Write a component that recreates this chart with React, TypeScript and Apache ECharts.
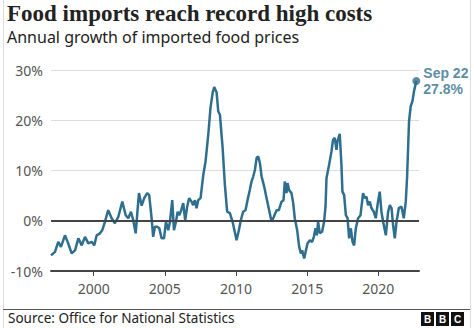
import React, { useEffect, useRef } from "react";
import * as echarts from "echarts";

const titleText = "Food imports reach record high costs";
const subtitleText = "Annual growth of imported food prices";
const sourceText = "Source: Office for National Statistics";
const xTicks = [2000, 2005, 2010, 2015, 2020];
const yTicks = [-10, 0, 10, 20, 30];
const lastLabel = "Sep 22";

const years = [
  1997.0, 1997.28, 1997.51, 1997.7, 1997.98, 1998.21, 1998.45, 1998.69, 1998.92, 1999.16,
  1999.39, 1999.62, 1999.86, 2000.04, 2000.21, 2000.44, 2000.6, 2000.79, 2001.02, 2001.26,
  2001.49, 2001.73, 2002.01, 2002.25, 2002.43, 2002.62, 2002.78, 2002.95, 2003.18, 2003.37,
  2003.55, 2003.76, 2003.9, 2004.07, 2004.18, 2004.3, 2004.46, 2004.61, 2004.77, 2004.94,
  2005.08, 2005.24, 2005.36, 2005.52, 2005.64, 2005.78, 2005.9, 2006.01, 2006.15, 2006.29,
  2006.43, 2006.57, 2006.71, 2006.88, 2006.99, 2007.11, 2007.23, 2007.34, 2007.51, 2007.7,
  2007.86, 2008.05, 2008.21, 2008.36, 2008.47, 2008.64, 2008.75, 2008.87, 2009.06, 2009.22,
  2009.38, 2009.57, 2009.76, 2010.04, 2010.2, 2010.34, 2010.5, 2010.67, 2010.81, 2010.97,
  2011.09, 2011.21, 2011.33, 2011.45, 2011.56, 2011.68, 2011.8, 2011.98, 2012.15, 2012.33,
  2012.5, 2012.66, 2012.85, 2013.01, 2013.2, 2013.34, 2013.43, 2013.55, 2013.62, 2013.73,
  2013.9, 2014.02, 2014.13, 2014.3, 2014.44, 2014.56, 2014.65, 2014.79, 2014.89, 2015.03,
  2015.19, 2015.35, 2015.47, 2015.59, 2015.68, 2015.77, 2015.89, 2016.05, 2016.19, 2016.29,
  2016.36, 2016.54, 2016.71, 2016.82, 2016.94, 2017.06, 2017.13, 2017.29, 2017.41, 2017.48,
  2017.6, 2017.72, 2017.84, 2017.95, 2018.07, 2018.19, 2018.3, 2018.42, 2018.58, 2018.75,
  2018.93, 2019.05, 2019.17, 2019.28, 2019.4, 2019.52, 2019.68, 2019.82, 2019.98, 2020.1,
  2020.22, 2020.34, 2020.53, 2020.69, 2020.81, 2020.93, 2021.04, 2021.16, 2021.28, 2021.44,
  2021.63, 2021.79, 2021.93, 2022.02, 2022.16, 2022.28, 2022.4, 2022.51, 2022.67,
];

const growth = [
  -6.9, -6.2, -4.2, -5.2, -2.9, -4.5, -6.5, -5.9, -3.5, -4.9,
  -3.2, -4.5, -4.2, -4.9, -2.9, -2.5, -1.9, -0.2, 2.1, 0.5,
  -0.5, 0.8, 3.8, 1.1, 0.5, 1.8, 0.1, -2.5, 5.5, 3.0,
  4.5, 5.5, 5.1, 0.5, -3.2, -1.2, -1.2, -1.5, -3.5, -3.5,
  -0.2, -1.9, -0.2, 4.1, -1.9, -0.2, 1.8, 1.1, 2.1, 3.5,
  0.1, 2.8, 4.5, 3.8, 3.1, 4.1, 2.5, 4.1, 4.5, 9.1,
  11.8, 17.1, 22.5, 25.5, 26.6, 25.5, 21.8, 21.1, 14.5, 7.1,
  1.8, 1.5, -0.2, -3.9, -1.9, 0.1, 1.8, 2.1, 4.1, 6.1,
  7.8, 8.8, 10.1, 12.5, 12.8, 11.5, 8.8, 6.8, 4.5, 2.1,
  -0.2, 0.8, 2.1, 2.1, 3.8, 4.1, 7.8, 5.5, 7.5, 6.1,
  5.5, 3.5, 0.5, -1.9, -5.2, -6.5, -5.9, -7.5, -6.2, -4.5,
  -3.9, -4.2, -3.2, -1.5, -2.9, -0.2, -2.5, -2.2, -0.2, 2.8,
  8.5, 11.1, 13.8, 16.1, 16.5, 14.1, 15.8, 17.3, 11.1, 5.8,
  5.1, 1.1, 0.5, -3.5, -1.5, -4.2, -4.9, -1.5, 0.5, 1.1,
  5.5, 4.5, 4.8, 3.1, 3.8, 2.5, 1.8, 0.5, 3.8, 5.8,
  1.8, -0.2, -2.9, 1.8, 3.1, 2.5, -0.9, -3.5, -0.2, 2.5,
  2.8, 0.5, 3.8, 8.5, 19.8, 22.8, 23.8, 25.8, 27.8,
];

const LINE = "#2e6e8e";
const SANS = "'Noto Sans', 'Open Sans', sans-serif";

export default function App() {
  const ref = useRef<HTMLDivElement>(null);
  useEffect(() => {
    if (!ref.current) return;
    const chart = echarts.init(ref.current, undefined, { renderer: "svg" });
    const data = years.map((y, i) => [y, growth[i]]);
    const last = data[data.length - 1];
    const bbc = ["B", "B", "C"];
    const option: any = {
      animation: false,
      backgroundColor: "#ffffff",
      grid: { left: 51, right: 55, top: 70, bottom: 57, containLabel: false },
      xAxis: {
        type: "value",
        min: 1997,
        max: 2022.86,
        splitLine: { show: false },
        axisLine: { show: true, onZero: false, lineStyle: { color: "#444", width: 2 } },
        axisTick: {
          show: true,
          customValues: xTicks,
          length: 5,
          lineStyle: { color: "#444", width: 1 },
        },
        axisLabel: {
          customValues: xTicks,
          formatter: (v: number) => String(v),
          color: "#555",
          fontFamily: SANS,
          fontSize: 14,
          margin: 10,
        },
      },
      yAxis: {
        type: "value",
        min: yTicks[0],
        max: yTicks[yTicks.length - 1],
        interval: 10,
        axisLine: { show: false },
        axisTick: { show: false },
        splitLine: { show: true, lineStyle: { color: "#dcdcdc", width: 1 } },
        axisLabel: {
          formatter: (v: number) => `${v}%`,
          color: "#555",
          fontFamily: SANS,
          fontSize: 14,
          margin: 8,
        },
      },
      series: [
        {
          type: "line",
          data: [],
          markLine: {
            silent: true,
            symbol: "none",
            label: { show: false },
            lineStyle: { color: "#444", width: 2, type: "solid" },
            data: [{ yAxis: 0 }],
          },
          z: 1,
        },
        {
          type: "line",
          data,
          showSymbol: false,
          smooth: false,
          lineStyle: { color: LINE, width: 2.5 },
          z: 3,
        },
        {
          type: "scatter",
          data: [last],
          symbol: "circle",
          symbolSize: 8,
          itemStyle: { color: LINE },
          z: 4,
          label: {
            show: true,
            position: "right",
            distance: 3,
            formatter: () => `${lastLabel}\n${growth[growth.length - 1]}%`,
            color: LINE,
            fontFamily: "'Liberation Sans', Arial, sans-serif",
            fontWeight: "bold",
            fontSize: 14,
            lineHeight: 16,
          },
        },
      ],
      graphic: [
        { type: "rect", shape: { x: 3, y: 0, width: 1, height: 328 }, style: { fill: "#dddddd" } },
        { type: "rect", shape: { x: 470, y: 0, width: 1, height: 328 }, style: { fill: "#dddddd" } },
        {
          type: "text",
          left: 7,
          top: 2,
          style: {
            text: titleText,
            font: "bold 23px 'Liberation Serif', serif",
            fill: "#222",
          },
        },
        {
          type: "text",
          left: 7,
          top: 29,
          style: {
            text: subtitleText,
            font: `16px ${SANS}`,
            fill: "#222",
          },
        },
        { type: "rect", shape: { x: 3, y: 309, width: 467, height: 1 }, style: { fill: "#555" } },
        {
          type: "text",
          left: 8,
          top: 311,
          style: {
            text: sourceText,
            font: `13.5px ${SANS}`,
            fill: "#222",
          },
        },
        ...bbc.flatMap((ch, i) => [
          {
            type: "rect",
            shape: { x: 421 + i * 15, y: 312, width: 13, height: 14 },
            style: { fill: "#111" },
          },
          {
            type: "text",
            x: 427.5 + i * 15,
            y: 319,
            style: {
              text: ch,
              font: "bold 10px 'Liberation Sans', Arial, sans-serif",
              fill: "#fff",
              align: "center",
              verticalAlign: "middle",
            },
          },
        ]),
      ],
    };
    chart.setOption(option);
    return () => chart.dispose();
  }, []);
  return (
    <div style={{ position: "absolute", left: 0, top: 0, width: 474, height: 328, background: "#fff" }}>
      <div ref={ref} style={{ width: 474, height: 328 }} />
    </div>
  );
}
